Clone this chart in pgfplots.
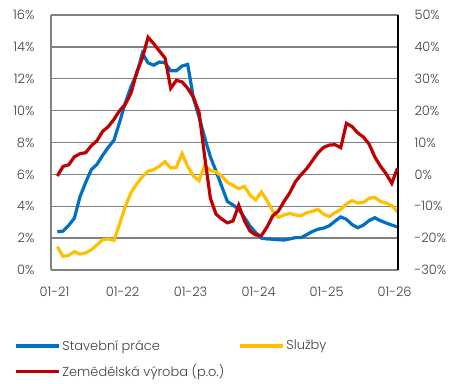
\documentclass[border=0pt]{standalone}
\usepackage{fontspec}
\setmainfont{Poppins}[UprightFont={* Light}]
\usepackage{pgfplots}
\usepackage{pgfplotstable}
\pgfplotsset{compat=1.18}
\definecolor{ingblue}{RGB}{0,112,192}
\definecolor{ingyellow}{RGB}{255,192,0}
\definecolor{ingred}{RGB}{192,0,0}
\definecolor{gridgray}{RGB}{128,128,128}
\definecolor{textgray}{RGB}{64,64,64}

\pgfplotstableread{
t stav sluz zem
0.5 2.40 1.46 -0.5
1.5 2.44 0.85 2.5
2.5 2.80 0.92 3.0
3.5 3.25 1.15 5.5
4.5 4.60 1.00 6.5
5.5 5.50 1.07 6.8
6.5 6.30 1.27 9.0
7.5 6.63 1.57 10.6
8.5 7.20 1.90 13.5
9.5 7.70 1.95 15.0
10.5 8.15 1.85 17.3
11.5 9.30 2.90 20.0
12.5 10.50 4.00 22.0
13.5 11.50 4.85 25.5
14.5 12.30 5.40 32.0
15.5 13.60 5.85 36.5
16.5 13.00 6.20 43.0
17.5 12.85 6.30 41.0
18.5 13.05 6.50 38.7
19.5 13.00 6.80 36.5
20.5 12.50 6.40 27.0
21.5 12.50 6.45 29.5
22.5 12.80 7.30 29.0
23.5 12.90 6.50 27.0
24.5 10.80 5.90 24.2
25.5 9.60 5.60 19.5
26.5 8.30 6.55 5.5
27.5 7.10 6.25 -7.5
28.5 6.20 6.15 -12.5
29.5 5.25 5.90 -14.0
30.5 4.30 5.50 -15.2
31.5 4.08 5.30 -14.6
32.5 3.80 5.10 -9.7
33.5 3.30 5.25 -14.5
34.5 2.75 4.70 -17.8
35.5 2.35 4.40 -19.0
36.5 2.00 4.90 -19.2
37.5 1.95 4.35 -16.5
38.5 1.93 3.70 -13.0
39.5 1.90 3.30 -11.5
40.5 1.88 3.45 -8.5
41.5 1.95 3.55 -5.8
42.5 2.03 3.45 -2.3
43.5 2.03 3.40 -0.1
44.5 2.22 3.60 1.8
45.5 2.42 3.68 4.3
46.5 2.56 3.80 6.8
47.5 2.63 3.50 8.5
48.5 2.78 3.35 9.2
49.5 3.07 3.60 9.3
50.5 3.33 3.80 8.4
51.5 3.18 4.15 16.0
52.5 2.85 4.35 15.0
53.5 2.65 4.20 13.0
54.5 2.82 4.25 11.7
55.5 3.10 4.50 9.5
56.5 3.28 4.55 5.5
57.5 3.09 4.30 2.6
58.5 2.95 4.20 0.2
59.5 2.82 4.05 -2.8
60.5 2.70 3.65 1.9
}\datatab

\begin{document}
\begin{tikzpicture}
\path[use as bounding box] (0,0) rectangle (469bp,384bp);
\begin{axis}[
  at={(51bp,114bp)}, anchor=south west,
  scale only axis, width=347bp, height=255bp,
  xmin=-0.62, xmax=60.6, ymin=0, ymax=16,
  xtick={0,12,24,36,48,60},
  xticklabels={01-21,01-22,01-23,01-24,01-25,01-26},
  ytick={0,2,...,16},
  yticklabels={0\%,2\%,4\%,6\%,8\%,10\%,12\%,14\%,16\%},
  axis x line*=bottom, axis y line*=left,
  axis line style={draw=gridgray, line width=1.4bp, -},
  ymajorgrids, major grid style={draw=gridgray, line width=1.4bp},
  major tick length=0pt,
  tick label style={font=\fontsize{13}{15}\selectfont, text=textgray},
  yticklabel style={xshift=-13bp},
  xticklabel style={yshift=-14bp},
  legend style={draw=none, fill=none, at={(0,0)}, anchor=north west,
    xshift=-37bp, yshift=-68bp, inner sep=0pt,
    font=\fontsize{13}{15}\selectfont, text=textgray,
    legend columns=2, row sep=9bp,
    /tikz/every even column/.append style={column sep=12bp}},
  legend cell align=left,
  legend image code/.code={\draw[#1] (0bp,0bp) -- (43bp,0bp);},
]
\addplot[ingblue, line width=3.2bp] table[x=t, y=stav] {\datatab};
\addlegendentry{Stavební práce}
\addplot[ingyellow, line width=3.2bp] table[x=t, y=sluz] {\datatab};
\addlegendentry{Služby}
\addlegendimage{ingred, line width=3.2bp}
\addlegendentry{Zemědělská výroba (p.o.)}
\end{axis}
\begin{axis}[
  at={(51bp,114bp)}, anchor=south west,
  scale only axis, width=347bp, height=255bp,
  xmin=-0.62, xmax=60.6, ymin=-30, ymax=50,
  axis x line=none, axis y line*=right,
  axis line style={draw=black, line width=2bp, -},
  ytick={-30,-20,...,50},
  yticklabels={-30\%,-20\%,-10\%,0\%,10\%,20\%,30\%,40\%,50\%},
  major tick length=0pt,
  tick label style={font=\fontsize{13}{15}\selectfont, text=textgray},
  yticklabel style={xshift=13bp},
]
\addplot[ingred, line width=3.2bp] table[x=t, y=zem] {\datatab};
\end{axis}
\end{tikzpicture}
\end{document}
